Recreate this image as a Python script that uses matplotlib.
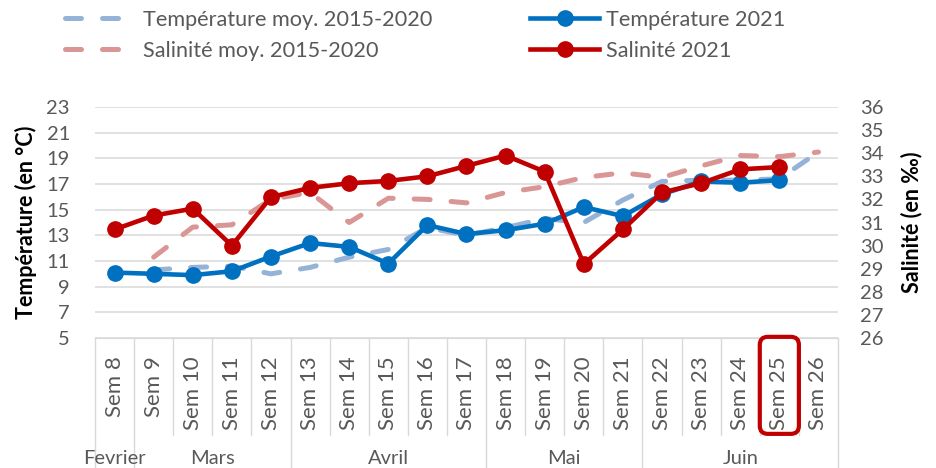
import matplotlib
matplotlib.use('Agg')
import matplotlib.pyplot as plt
from matplotlib.patches import FancyBboxPatch
import numpy as np

plt.rcParams['font.family'] = ['Lato', 'DejaVu Sans']

# categories
weeks = ['Sem 8', 'Sem 9', 'Sem 10', 'Sem 11', 'Sem 12', 'Sem 13', 'Sem 14',
         'Sem 15', 'Sem 16', 'Sem 17', 'Sem 18', 'Sem 19', 'Sem 20', 'Sem 21',
         'Sem 22', 'Sem 23', 'Sem 24', 'Sem 25', 'Sem 26']
months = ['Fevrier', 'Mars', 'Avril', 'Mai', 'Juin']
weeks_per_month = [1, 4, 5, 4, 5]
highlight_week = 'Sem 25'

# series
temp_moy = [np.nan, 10.3, 10.5, 10.6, 10.0, 10.5, 11.3, 11.9, 13.6, 13.0,
            13.6, 14.3, 14.0, 15.75, 17.2, 17.3, 17.3, 17.4, 19.5]
temp_2021 = [10.1, 10.0, 9.9, 10.2, 11.35, 12.4, 12.1, 10.8, 13.8, 13.1,
             13.4, 13.9, 15.2, 14.5, 16.2, 17.2, 17.1, 17.3, np.nan]
sal_moy = [np.nan, 29.5, 30.8, 30.9, 32.0, 32.3, 31.0, 32.05, 32.0, 31.85,
           32.3, 32.55, 32.95, 33.15, 32.95, 33.45, 33.9, 33.85, 34.05]
sal_2021 = [30.7, 31.3, 31.6, 30.0, 32.1, 32.5, 32.7, 32.8, 33.0, 33.45,
            33.9, 33.2, 29.2, 30.7, 32.3, 32.7, 33.3, 33.4, np.nan]

grey = '#595959'
grid = '#D9D9D9'
x = np.arange(len(weeks))

fig = plt.figure(figsize=(9.37, 4.68), dpi=100)
ax = fig.add_axes([95 / 937, 1 - 338 / 468, 743 / 937, 231 / 468])
ax2 = ax.twinx()

dash = (3.2, 4.2)
l1, = ax.plot(x, temp_moy, color='#95B3D7', lw=3.6, dashes=dash,
              dash_capstyle='round', label='Température moy. 2015-2020', zorder=2)
l3, = ax.plot(x, temp_2021, color='#0070C0', lw=3.3, marker='o', ms=11,
              label='Température 2021', zorder=3)
l2, = ax2.plot(x, sal_moy, color='#D99694', lw=3.6, dashes=dash,
               dash_capstyle='round', label='Salinité moy. 2015-2020', zorder=2)
l4, = ax2.plot(x, sal_2021, color='#C00000', lw=3.3, marker='o', ms=11,
               label='Salinité 2021', zorder=3)

ax.set_xlim(-0.5, len(weeks) - 0.5)
ax.set_ylim(5, 23)
ax.set_yticks(np.arange(5, 24, 2))
ax2.set_ylim(26, 36)
ax2.set_yticks(np.arange(26, 37, 1))
ax.yaxis.grid(True, color=grid, lw=1.1)
ax.set_axisbelow(True)

ax.set_xticks(x)
ax.set_xticklabels(weeks, rotation=90)
ax.tick_params(axis='x', length=0, pad=13, labelsize=16, labelcolor=grey)
ax.tick_params(axis='y', length=0, pad=18, labelsize=14.5, labelcolor=grey)
ax2.tick_params(axis='y', length=0, pad=16, labelsize=14.5, labelcolor=grey)

for a in (ax, ax2):
    for s in ('top', 'left', 'right'):
        a.spines[s].set_visible(False)
ax.spines['bottom'].set_color(grid)
ax2.spines['bottom'].set_visible(False)

ax.set_ylabel('Température (en °C)', fontsize=15.5, fontweight='bold', va='center')
ax.yaxis.set_label_coords(-0.093, 0.5)
ax2.set_ylabel('Salinité (en ‰)', fontsize=15.5, fontweight='bold', va='center',
               rotation=90)
ax2.yaxis.set_label_coords(1.099, 0.5)

# category separators and month labels
xt = ax.get_xaxis_transform()
month_bounds = list(np.cumsum([0] + weeks_per_month) - 0.5)
for b in np.arange(-0.5, len(weeks)):
    y_end = -0.565 if b in month_bounds else -0.42
    ax.plot([b, b], [0, y_end], transform=xt, color=grid, lw=1, clip_on=False)
for m, start, n in zip(months, month_bounds[:-1], weeks_per_month):
    ax.text(start + n / 2, -0.52, m, transform=xt, ha='center', va='center',
            fontsize=14.5, color=grey)

# rounded box around highlighted week
i = weeks.index(highlight_week)
(x0, y0), (x1, y1) = xt.transform([(i - 0.5, 0.005), (i + 0.5, -0.415)])
box = FancyBboxPatch((x0 / fig.dpi, y1 / fig.dpi), (x1 - x0) / fig.dpi,
                     (y0 - y1) / fig.dpi, boxstyle='round,pad=0,rounding_size=0.08',
                     transform=fig.dpi_scale_trans, fill=False, ec='#C00000', lw=3)
fig.patches.append(box)

# legends
fig.legend(handles=[l1, l2], loc='upper left', bbox_to_anchor=(65 / 937, 0.979),
           frameon=False, borderpad=0, borderaxespad=0, fontsize=15.6,
           handlelength=2.7, handletextpad=0.9, labelspacing=0.5, labelcolor=grey)
fig.legend(handles=[l3, l4], loc='upper left', bbox_to_anchor=(530 / 937, 0.979),
           frameon=False, borderpad=0, borderaxespad=0, fontsize=15.6,
           handlelength=3.2, handletextpad=0.3, labelspacing=0.5, labelcolor=grey,
           numpoints=1)

fig.savefig('out.png', dpi=100)
